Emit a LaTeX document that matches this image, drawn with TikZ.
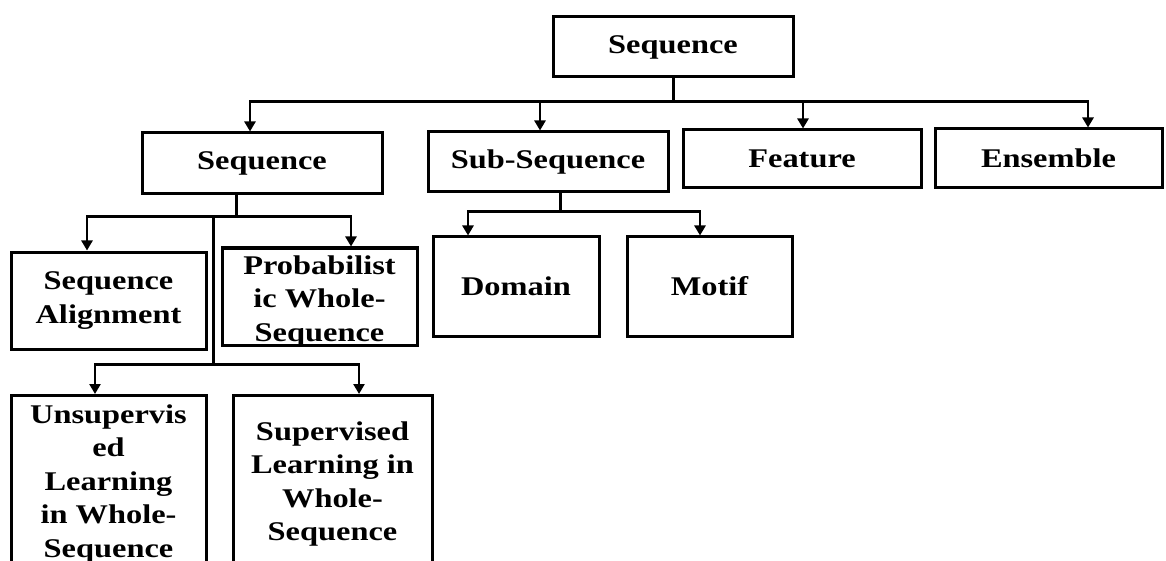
\documentclass[tikz,border=0pt]{standalone}
\usepackage{fontspec}
\newfontfamily\boxfont{Liberation Serif}[FakeStretch=1.2]
\usetikzlibrary{arrows.meta}
\begin{document}
\begin{tikzpicture}[x=1pt,y=-1pt,line width=3pt,
  boxtext/.style={inner sep=0pt,align=center,
    font=\boxfont\bfseries\fontsize{27}{33.5}\selectfont},
  box/.style={boxtext,draw,line width=3pt},
  arr/.style={-{Triangle[width=11pt,length=10pt]},line width=2.8pt}]
\useasboundingbox (0,0) rectangle (1166,561);
% level 0
\node[box,minimum width=240pt,minimum height=60pt] (top) at (673,47) {Sequence};
% level 1
\node[box,minimum width=240pt,minimum height=61pt] (seq2) at (262,163.5) {Sequence};
\node[box,minimum width=240pt,minimum height=60pt] (sub) at (548,162) {Sub-Sequence};
\node[box,minimum width=238pt,minimum height=58pt] (feat) at (802,159) {Feature};
\node[box,minimum width=227pt,minimum height=59pt] (ens) at (1048.5,158.5) {Ensemble};
% level 2
\node[box,minimum width=195pt,minimum height=97pt] (align) at (108.5,300.5) {Sequence\\Alignment};
\node[box,minimum width=195pt,minimum height=97pt] (prob) at (319.5,296.5) {};
\node[boxtext] (probt) at ([yshift=-5pt]prob.center) {Probabilist\\ic Whole-\\Sequence};
\node[box,minimum width=166pt,minimum height=99pt] (dom) at (516,286.5) {Domain};
\node[box,minimum width=165pt,minimum height=99pt] (mot) at (709.5,286.5) {Motif};
% level 3
\node[box,minimum width=195pt,minimum height=177pt] (unsup) at (108.5,484) {Unsupervis\\ed\\Learning\\in Whole-\\Sequence};
\node[box,minimum width=199pt,minimum height=177pt] (sup) at (332.5,484) {Supervised\\Learning in\\Whole-\\Sequence};
% connectors from top
\path (top.south) ++(0,23) coordinate (j1);
\draw (top.south) -- (j1);
\draw[arr] (j1) -| ([xshift=-12pt]seq2.north);
\draw[arr] (j1) -| ([xshift=-8pt]sub.north);
\draw[arr] (j1) -| ([xshift=1pt]feat.north);
\draw[arr] (j1) -| ([xshift=39.5pt]ens.north);
% connectors from level-1 Sequence
\path ([xshift=-26pt]seq2.south) coordinate (s2) ++(0,21) coordinate (j2);
\draw (s2) -- (j2);
\draw[arr] (j2) -| ([xshift=-21.5pt]align.north);
\draw[arr] (j2) -| ([xshift=31.5pt]prob.north);
\path (j2) ++(-23,0) coordinate (j2b);
\path (j2b) ++(0,148) coordinate (j3);
\draw (j2b) -- (j3);
\draw[arr] (j3) -| ([xshift=-13.5pt]unsup.north);
\draw[arr] (j3) -| ([xshift=26.5pt]sup.north);
% connectors from Sub-Sequence
\path ([xshift=12pt]sub.south) coordinate (s3) ++(0,18) coordinate (j4);
\draw (s3) -- (j4);
\draw[arr] (j4) -| ([xshift=-48pt]dom.north);
\draw[arr] (j4) -| ([xshift=-9.5pt]mot.north);
\end{tikzpicture}
\end{document}
